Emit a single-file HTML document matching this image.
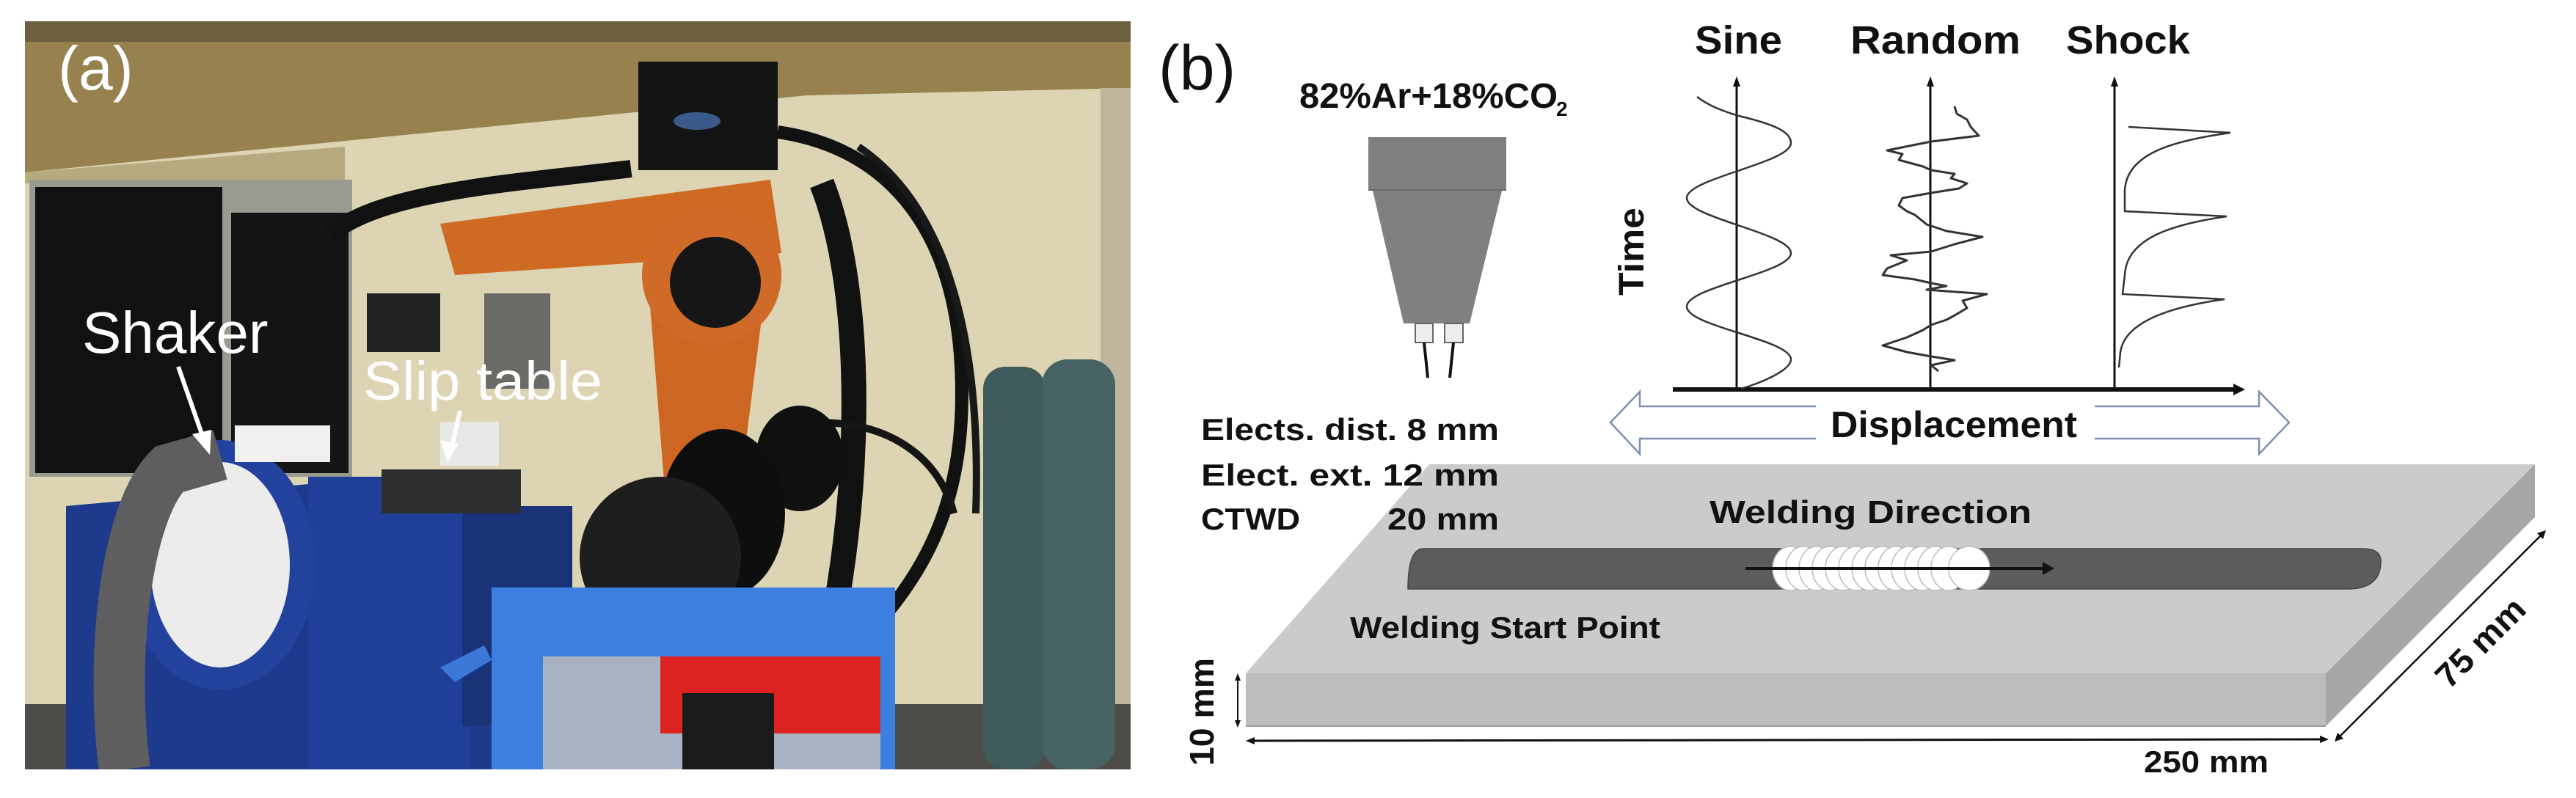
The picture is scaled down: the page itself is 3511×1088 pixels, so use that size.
<!DOCTYPE html>
<html><head><meta charset="utf-8"><style>
html,body{margin:0;padding:0;background:#fff;}
svg{display:block;}
text{font-family:"Liberation Sans",Arial,sans-serif;}
</style></head><body>
<svg width="3511" height="1088" viewBox="0 0 3511 1088" xmlns="http://www.w3.org/2000/svg">
<rect width="3511" height="1088" fill="#fff"/>
<!-- ===== Photo (a) ===== -->
<clipPath id="ph"><rect x="34" y="29" width="1507" height="1020"/></clipPath>
<g clip-path="url(#ph)">
<rect x="34" y="29" width="1507" height="1020" fill="#dcd4b2"/>
<polygon points="34,29 1541,29 1541,120 1100,130 34,235" fill="#97814f"/>
<rect x="34" y="29" width="1507" height="28" fill="#6e6140"/>
<polygon points="34,235 470,200 470,250 34,250" fill="#b8aa80"/>
<rect x="1500" y="120" width="41" height="929" fill="#bdb59c"/>
<!-- windows -->
<rect x="40" y="245" width="440" height="405" fill="#9a9a90"/>
<rect x="48" y="255" width="255" height="390" fill="#111"/>
<rect x="315" y="290" width="160" height="355" fill="#141414"/>
<rect x="500" y="400" width="100" height="80" fill="#222"/>
<rect x="660" y="400" width="90" height="130" fill="#6a6a66"/>
<!-- floor -->
<rect x="34" y="960" width="1507" height="89" fill="#4e4c48"/>
<!-- shaker base -->
<polygon points="90,690 420,660 640,660 780,720 780,1049 90,1049" fill="#1d3a8c"/>
<rect x="420" y="650" width="220" height="400" fill="#1f3f98"/>
<rect x="630" y="690" width="150" height="300" fill="#1a3278"/>
<ellipse cx="300" cy="770" rx="130" ry="170" fill="#23429e"/>
<ellipse cx="300" cy="770" rx="95" ry="140" fill="#ececec"/>
<rect x="320" y="580" width="130" height="50" fill="#f0f0f0"/>
<path d="M170,1049 C150,900 170,700 230,640 L300,620" stroke="#5e5e60" stroke-width="70" fill="none"/>
<rect x="520" y="640" width="190" height="60" fill="#2e2e2e"/>
<rect x="600" y="575" width="80" height="60" fill="#e8e8e8"/>
<!-- robot -->
<path d="M450,320 C520,260 700,250 860,230" stroke="#111" stroke-width="24" fill="none"/>
<rect x="870" y="84" width="190" height="148" fill="#141414"/>
<ellipse cx="950" cy="165" rx="32" ry="12" fill="#3a5a8a"/>
<polygon points="600,305 1050,245 1065,345 620,375" fill="#cf6a25"/>
<polygon points="880,340 1050,340 1010,655 905,655" fill="#cc6622"/>
<circle cx="970" cy="375" r="95" fill="#d06a28"/>
<circle cx="975" cy="385" r="62" fill="#161616"/>
<path d="M1060,180 C1200,200 1300,300 1310,500 C1320,700 1250,800 1150,900" stroke="#111" stroke-width="18" fill="none"/>
<path d="M1120,250 C1180,400 1180,700 1110,960" stroke="#111" stroke-width="34" fill="none"/>
<path d="M1170,200 C1260,260 1340,400 1330,700" stroke="#181818" stroke-width="10" fill="none"/>
<path d="M1070,580 C1200,560 1280,620 1300,700" stroke="#151515" stroke-width="10" fill="none"/>
<ellipse cx="1090" cy="625" rx="60" ry="72" fill="#101010"/>
<ellipse cx="985" cy="700" rx="85" ry="115" fill="#0e0e0e"/>
<ellipse cx="900" cy="760" rx="110" ry="110" fill="#1e1e1e"/>
<!-- cylinders -->
<rect x="1340" y="500" width="85" height="549" rx="30" fill="#3f5a5a"/>
<rect x="1420" y="490" width="100" height="559" rx="35" fill="#466262"/>
<!-- cart -->
<polygon points="600,910 660,880 670,900 620,930" fill="#3b78d8"/>
<rect x="670" y="801" width="550" height="248" fill="#3d7fe0"/>
<rect x="740" y="895" width="460" height="154" fill="#a9b2c2"/>
<rect x="900" y="895" width="300" height="105" fill="#dd2222"/>
<rect x="930" y="945" width="125" height="104" fill="#1a1a1a"/>
<!-- labels -->
<text x="79" y="122" font-size="84" fill="#fff">(a)</text>
<text x="112" y="481" font-size="80" fill="#fff">Shaker</text>
<text x="495" y="545" font-size="74" fill="#fff" textLength="326" lengthAdjust="spacingAndGlyphs">Slip table</text>
<line x1="243" y1="500" x2="278" y2="600" stroke="#fff" stroke-width="6"/>
<polygon points="286,620 262,592 288,586" fill="#fff"/>
<line x1="627" y1="560" x2="615" y2="612" stroke="#fff" stroke-width="6"/>
<polygon points="610,630 600,600 625,605" fill="#fff"/>
</g>
<!-- ===== Panel (b) ===== -->
<text x="1579" y="122" font-size="86" fill="#111">(b)</text>
<text x="1771" y="147" font-size="48" font-weight="bold" fill="#111" textLength="352" lengthAdjust="spacingAndGlyphs">82%Ar+18%CO</text>
<text x="2121" y="158" font-size="28" font-weight="bold" fill="#111">2</text>
<!-- nozzle -->
<rect x="1865" y="187" width="188" height="72" fill="#808080"/>
<line x1="1865" y1="259" x2="2053" y2="259" stroke="#6a6a6a" stroke-width="2"/>
<polygon points="1871,260 2047,260 2003,441 1913,441" fill="#808080"/>
<rect x="1929" y="441" width="24" height="26" fill="#eee" stroke="#666" stroke-width="2"/>
<rect x="1969" y="441" width="25" height="26" fill="#eee" stroke="#666" stroke-width="2"/>
<line x1="1941" y1="467" x2="1946" y2="515" stroke="#111" stroke-width="4"/>
<line x1="1981" y1="467" x2="1976" y2="515" stroke="#111" stroke-width="4"/>
<!-- graph titles -->
<text x="2310" y="73" font-size="54" font-weight="bold" fill="#111" textLength="119" lengthAdjust="spacingAndGlyphs">Sine</text>
<text x="2522" y="73" font-size="54" font-weight="bold" fill="#111" textLength="232" lengthAdjust="spacingAndGlyphs">Random</text>
<text x="2816" y="73" font-size="54" font-weight="bold" fill="#111" textLength="169" lengthAdjust="spacingAndGlyphs">Shock</text>
<text transform="translate(2240,403) rotate(-90)" font-size="48" font-weight="bold" fill="#111" textLength="120" lengthAdjust="spacingAndGlyphs">Time</text>
<!-- axes -->
<g stroke="#111" stroke-width="3">
<line x1="2367" y1="115" x2="2367" y2="531"/>
<line x1="2631" y1="115" x2="2631" y2="531"/>
<line x1="2882" y1="115" x2="2882" y2="531"/>
</g>
<polygon points="2367,104 2362,118 2372,118" fill="#111"/>
<polygon points="2631,104 2626,118 2636,118" fill="#111"/>
<polygon points="2882,104 2877,118 2887,118" fill="#111"/>
<line x1="2280" y1="531" x2="3048" y2="531" stroke="#111" stroke-width="6"/>
<polygon points="3060,531 3044,523 3044,539" fill="#111"/>
<!-- sine -->
<path d="M2313,132 C2330,145 2350,152 2370,158 C2420,170 2441,180 2441,195 C2441,222 2299,243 2299,270 C2299,297 2441,318 2441,345 C2441,372 2299,391 2299,418 C2299,445 2441,463 2441,490 C2441,505 2400,522 2373,530" stroke="#333" stroke-width="2.5" fill="none"/>
<!-- random -->
<polyline points="2664,145 2667,155 2681,163 2686,173 2697,185 2632,193 2572,205 2593,210 2588,218 2621,227 2632,232 2664,237 2659,243 2681,250 2670,257 2632,263 2593,270 2588,280 2599,288 2610,293 2626,306 2653,315 2702,323 2664,333 2632,343 2577,348 2599,355 2572,366 2566,375 2610,381 2632,386 2653,390 2626,395 2708,401 2675,410 2681,420 2664,430 2653,436 2632,443 2621,450 2599,460 2566,471 2599,480 2632,486 2664,491 2632,498 2642,506" stroke="#333" stroke-width="3" fill="none" stroke-linejoin="round"/>
<!-- shock -->
<path d="M2901,173 L3040,181 C2960,192 2898,210 2896,260 L2896,288 L3035,295 C2960,306 2898,325 2896,375 L2893,401 L3032,408 C2960,418 2896,438 2890,480 L2888,501" stroke="#333" stroke-width="2.5" fill="none"/>
<!-- displacement arrow -->
<path d="M2195,576 L2235,534 L2235,554 L3079,554 L3079,534 L3120,576 L3079,619 L3079,598 L2235,598 L2235,619 Z" fill="#fff" stroke="#7d90b0" stroke-width="2.5"/>
<rect x="2475" y="552" width="380" height="50" fill="#fff"/>
<text x="2495" y="596" font-size="50" font-weight="bold" fill="#111" textLength="336" lengthAdjust="spacingAndGlyphs">Displacement</text>
<!-- plate -->
<polygon points="1948,633 3455,633 3170,918 1698,918" fill="#cbcbcb"/>
<polygon points="1698,918 3170,918 3170,990 1698,990" fill="#bdbdbd"/>
<polygon points="3170,918 3455,633 3455,705 3170,990" fill="#a6a6a6"/>
<line x1="1698" y1="990" x2="3170" y2="990" stroke="#9a9a9a" stroke-width="2"/>
<!-- weld bar -->
<path d="M1940,748 L3220,748 Q3245,748 3245,765 Q3245,803 3200,803 L1919,803 Q1919,748 1940,748 Z" fill="#5c5c5c" stroke="#444" stroke-width="1.5"/>
<g fill="#fff" stroke="#bbb" stroke-width="1.5">
<ellipse cx="2440" cy="775" rx="24" ry="30"/>
<ellipse cx="2458" cy="775" rx="24" ry="30"/>
<ellipse cx="2476" cy="775" rx="24" ry="30"/>
<ellipse cx="2494" cy="775" rx="24" ry="30"/>
<ellipse cx="2512" cy="775" rx="24" ry="30"/>
<ellipse cx="2530" cy="775" rx="24" ry="30"/>
<ellipse cx="2548" cy="775" rx="24" ry="30"/>
<ellipse cx="2566" cy="775" rx="24" ry="30"/>
<ellipse cx="2584" cy="775" rx="24" ry="30"/>
<ellipse cx="2602" cy="775" rx="24" ry="30"/>
<ellipse cx="2620" cy="775" rx="24" ry="30"/>
<ellipse cx="2638" cy="775" rx="24" ry="30"/>
<ellipse cx="2656" cy="775" rx="24" ry="30"/>
<ellipse cx="2684" cy="775" rx="28" ry="30"/>
</g>
<line x1="2379" y1="775" x2="2790" y2="775" stroke="#111" stroke-width="4"/>
<polygon points="2800,775 2784,766 2784,784" fill="#111"/>
<text x="2330" y="713" font-size="44" font-weight="bold" fill="#111" textLength="439" lengthAdjust="spacingAndGlyphs">Welding Direction</text>
<text x="1840" y="870" font-size="42" font-weight="bold" fill="#111" textLength="423" lengthAdjust="spacingAndGlyphs">Welding Start Point</text>
<!-- params -->
<text x="1637" y="600" font-size="42" font-weight="bold" fill="#111" textLength="406" lengthAdjust="spacingAndGlyphs">Elects. dist. 8 mm</text>
<text x="1637" y="662" font-size="42" font-weight="bold" fill="#111" textLength="406" lengthAdjust="spacingAndGlyphs">Elect. ext.  12 mm</text>
<text x="1637" y="722" font-size="42" font-weight="bold" fill="#111" textLength="135" lengthAdjust="spacingAndGlyphs">CTWD</text>
<text x="1891" y="722" font-size="42" font-weight="bold" fill="#111" textLength="152" lengthAdjust="spacingAndGlyphs">20 mm</text>
<!-- dimensions -->
<line x1="1687" y1="924" x2="1687" y2="986" stroke="#111" stroke-width="2"/>
<polygon points="1687,918 1683,928 1691,928" fill="#111"/>
<polygon points="1687,992 1683,982 1691,982" fill="#111"/>
<text transform="translate(1654,1044) rotate(-90)" font-size="46" font-weight="bold" fill="#111" textLength="147" lengthAdjust="spacingAndGlyphs">10 mm</text>
<line x1="1704" y1="1010" x2="3168" y2="1008" stroke="#111" stroke-width="3"/>
<polygon points="1698,1010 1710,1005 1710,1015" fill="#111"/>
<polygon points="3174,1008 3162,1003 3162,1013" fill="#111"/>
<text x="2922" y="1053" font-size="42" font-weight="bold" fill="#111" textLength="170" lengthAdjust="spacingAndGlyphs">250 mm</text>
<line x1="3185" y1="1008" x2="3467" y2="726" stroke="#111" stroke-width="2.5"/>
<polygon points="3182,1011 3186,999 3194,1007" fill="#111"/>
<polygon points="3470,723 3466,735 3458,727" fill="#111"/>
<text transform="translate(3338,941) rotate(-45)" font-size="46" font-weight="bold" fill="#111" textLength="152" lengthAdjust="spacingAndGlyphs">75 mm</text>
</svg>
</body></html>
